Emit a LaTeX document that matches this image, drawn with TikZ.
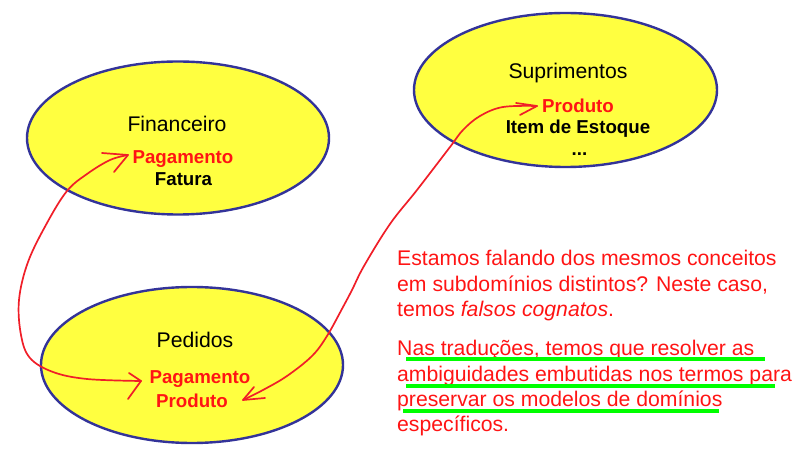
\documentclass[tikz,border=0pt]{standalone}
\usepackage{fontspec}
\setmainfont{Liberation Sans}
\usetikzlibrary{shapes.geometric}
\definecolor{ellfill}{RGB}{255,255,64}
\definecolor{elldraw}{RGB}{51,51,153}
\definecolor{redtxt}{RGB}{255,20,20}
\definecolor{redline}{RGB}{240,30,40}
\definecolor{greenline}{RGB}{0,255,0}
\tikzset{
  domainbox/.style={ellipse, draw=elldraw, fill=ellfill, line width=2.4bp, inner sep=0pt},
  titletxt/.style={anchor=base, inner sep=0pt, font=\fontsize{21.2bp}{25bp}\selectfont},
  termtxt/.style={anchor=base, inner sep=0pt, font=\fontsize{18.7bp}{22bp}\selectfont\bfseries},
  redtermtxt/.style={termtxt, text=redtxt},
  notetxt/.style={anchor=base west, inner sep=0pt, text=redtxt, font=\fontsize{21.2bp}{25bp}\selectfont},
  linkline/.style={draw=redline, line width=1.7bp, line cap=round, line join=round},
  hlline/.style={draw=greenline, line width=4bp}
}
\begin{document}
\begin{tikzpicture}[x=1bp,y=-1bp]
\useasboundingbox (0,0) rectangle (809,454);
% domains
\node[domainbox, minimum width=302bp, minimum height=153bp] (finE) at (178,138) {};
\node[domainbox, minimum width=303bp, minimum height=154bp] (supE) at (565.5,90) {};
\node[domainbox, minimum width=302bp, minimum height=156bp] (pedE) at (192,365) {};
% Financeiro
\node[titletxt] (finT) at (177,132) {Financeiro};
\node[redtermtxt] (finPag) at (183,163.3) {Pagamento};
\node[termtxt] (finFat) at (183.5,186) {Fatura};
% Suprimentos
\node[titletxt] (supT) at (568,79) {Suprimentos};
\node[redtermtxt] (supProd) at (578,112.7) {Produto};
\node[termtxt] (supItem) at (578,134) {Item de Estoque};
\node[termtxt] (supDots) at (579.5,156) {...};
% Pedidos
\node[titletxt] (pedT) at (195,347.7) {Pedidos};
\node[redtermtxt] (pedPag) at (200,383.3) {Pagamento};
\node[redtermtxt] (pedProd) at (192,407.7) {Produto};
% notes
\node[notetxt] (n1) at (397,266) {Estamos falando dos mesmos conceitos};
\node[notetxt] (n2) at (397,291.3) {em subdomínios distintos? Neste caso,};
\node[notetxt] (n3) at (397,316.6) {temos \textit{falsos cognatos}.};
\node[notetxt] (m1) at (397,356) {Nas traduções, temos que resolver as};
\node[notetxt] (m2) at (397,381.2) {ambiguidades embutidas nos termos para};
\node[notetxt] (m3) at (397,406.4) {preservar os modelos de domínios};
\node[notetxt] (m4) at (397,431.6) {específicos.};
% highlights
\draw[hlline] (406,359) -- (765,359);
\draw[hlline] (406,386) -- (775,386);
\draw[hlline] (403,411) -- (719,411);
% connector ends
\coordinate (tipF) at (128,155);
\coordinate (tipP) at (141,381);
\coordinate (tipS) at (537,106);
\coordinate (tipQ) at (243,400);
% connector 1: Financeiro Pagamento <-> Pedidos Pagamento
\draw[linkline] plot[smooth, tension=0.6] coordinates {(tipF) (110,160) (87,174) (67,191) (47,223) (28,262) (19,300) (21,335) (30,358) (53,372) (87,379) (tipP)};
\draw[linkline] (102,153) -- (tipF) -- (114,172);
\draw[linkline] (129,373) -- (tipP) -- (128,399);
% connector 2: Suprimentos Produto <-> Pedidos Produto
\draw[linkline] plot[smooth, tension=0.6] coordinates {(tipS) (503,107) (480,116) (463,130) (450,147) (417,190) (390,224) (364,266) (352,290) (343,307) (327,336) (312,356) (287,376) (263,390) (tipQ)};
\draw[linkline] (516,103) -- (tipS) -- (520,115);
\draw[linkline] (265,398) -- (tipQ) -- (254,387);
\end{tikzpicture}
\end{document}
